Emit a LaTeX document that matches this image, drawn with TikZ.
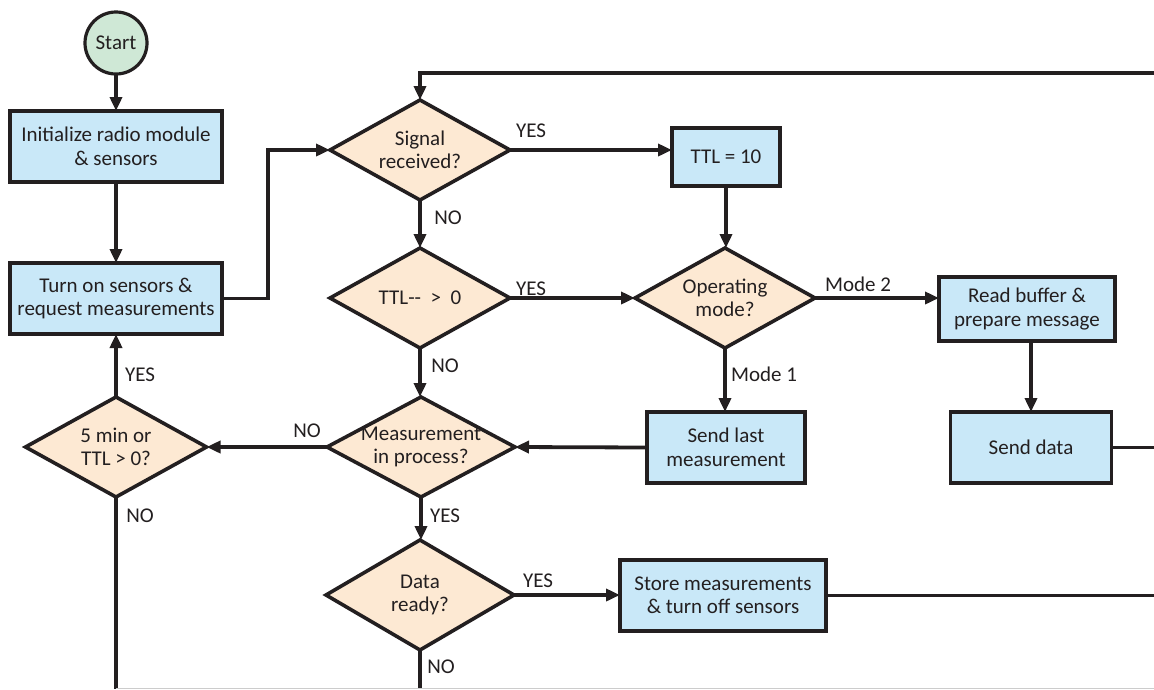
\documentclass[tikz,border=0pt]{standalone}
\usepackage{fontspec}
\setmainfont{Carlito}
\usetikzlibrary{shapes.geometric,arrows.meta}
\definecolor{ink}{HTML}{231F20}
\definecolor{boxfill}{HTML}{C9E8F8}
\definecolor{decfill}{HTML}{FDE9D3}
\definecolor{startfill}{HTML}{CFE8D6}
\begin{document}
\begin{tikzpicture}[x=1pt,y=-1pt, color=ink, text=ink,
  every path/.append style={line width=3.2pt},
  font=\fontsize{21}{23.5}\selectfont,
  procbox/.style={draw=ink, fill=boxfill, align=center, inner sep=0pt, outer sep=0pt, rectangle, line width=3.2pt},
  decision/.style={draw=ink, fill=decfill, diamond, inner sep=0pt, outer sep=0pt,
    minimum width=180pt, minimum height=100pt, line width=3.6pt},
  dtext/.style={label={[align=center, text=ink]center:#1}},
  flow/.style={-{Triangle[length=14pt,width=12pt]}, line width=3.8pt},
  plainline/.style={line width=3.8pt},
  lbl/.style={inner sep=0pt, text=ink},
]
\useasboundingbox (0,0) rectangle (1154,689);

% nodes
\node[draw=ink, fill=startfill, circle, minimum size=62pt, inner sep=0pt, outer sep=0pt, line width=3.2pt] (start) at (116,43) {Start};
\node[procbox, minimum width=212pt, minimum height=71pt] (init) at (116,146.5) {Initialize radio module\\\& sensors};
\node[procbox, minimum width=212pt, minimum height=71pt] (turnon) at (116,298.5) {Turn on sensors \&\\request measurements};
\node[decision, dtext={Signal\\received?}] (signal) at (420,150) {};
\node[decision, dtext={TTL-{}-~~>~~0}] (ttl) at (420,298) {};
\node[decision, minimum width=188pt, dtext={Measurement\\in process?}] (meas) at (421,447) {};
\node[decision, minimum width=188pt, minimum height=110pt, dtext={Data\\ready?}] (data) at (420,595) {};
\node[decision, minimum width=181pt, dtext={5 min or\\TTL > 0?}] (fivemin) at (116,447) {};
\node[decision, dtext={Operating\\mode?}] (opmode) at (725,298) {};
\node[procbox, minimum width=108pt, minimum height=58pt] (ttl10) at (726,157) {TTL = 10};
\node[procbox, minimum width=176pt, minimum height=64pt] (readbuf) at (1027,309) {Read buffer \&\\prepare message};
\node[procbox, minimum width=161pt, minimum height=71pt] (senddata) at (1031,447.5) {Send data};
\node[procbox, minimum width=158pt, minimum height=71pt] (sendlast) at (726,447.5) {Send last\\measurement};
\node[procbox, minimum width=206pt, minimum height=71pt] (store) at (723,595.5) {Store measurements\\\& turn off sensors};

% free ends
\coordinate (toploop) at (1154,73);
\coordinate (sdout) at (1154,447.5);
\coordinate (stout) at (1154,595.5);
\coordinate (fmout) at (116,689);
\coordinate (drout) at (420,689);

% connectors
\draw[flow] (start) -- (init);
\draw[flow] (init) -- (turnon);
\draw[flow] (turnon.east) -- ++(46,0) |- (signal.west);
\draw[flow] (toploop) -| (signal.north);
\draw[flow] (signal.east) -- (signal.east -| ttl10.west);
\draw[flow] (signal.south) -- (ttl.north);
\draw[flow] (ttl.south) -- (ttl.south |- meas.north);
\draw[flow] (ttl10.south) -- (ttl10.south |- opmode.north);
\draw[flow] (ttl.east) -- (opmode.west);
\draw[flow] (opmode.east) -- (opmode.east -| readbuf.west);
\draw[flow] (opmode.south) -- (opmode.south |- sendlast.north);
\draw[flow] (senddata.north |- readbuf.south) -- (senddata.north);
\draw[plainline] (senddata.east) -- (sdout);
\draw[flow] (sendlast.west) -- (meas.east);
\draw[flow] (meas.west) -- (fivemin.east);
\draw[flow] (fivemin.north) -- (turnon.south);
\draw[plainline] (fivemin.south) -- (fmout);
\draw[flow] (meas.south) -- (meas.south |- data.north);
\draw[flow] (data.east) -- (data.east -| store.west);
\draw[plainline] (data.south) -- (drout);
\draw[plainline] (store.east) -- (stout);
\draw[black!20, line width=1pt] (fmout) ++(0,-1) -- ++(1038,0);

% connector labels
\node[lbl] (l1) at (531,131) {YES};
\node[lbl] (l2) at (448,218) {NO};
\node[lbl] (l3) at (531,289) {YES};
\node[lbl] (l4) at (445,366) {NO};
\node[lbl] (l5) at (858,284) {Mode 2};
\node[lbl] (l6) at (764,374) {Mode 1};
\node[lbl] (l7) at (307,431) {NO};
\node[lbl] (l8) at (140,375) {YES};
\node[lbl] (l9) at (140,516) {NO};
\node[lbl] (l10) at (445,516) {YES};
\node[lbl] (l11) at (538,581) {YES};
\node[lbl] (l12) at (441,667) {NO};
\end{tikzpicture}
\end{document}
